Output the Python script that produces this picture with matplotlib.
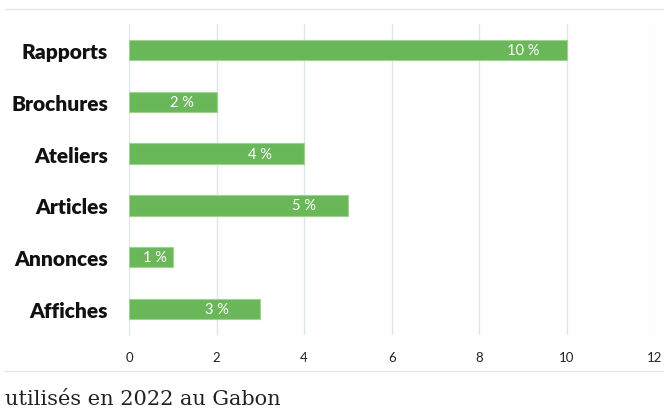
import matplotlib.pyplot as plt
from matplotlib.lines import Line2D

# Supports utilisés (valeurs en %)
categories = ["Affiches", "Annonces", "Articles", "Ateliers", "Brochures", "Rapports"]
valeurs = [3, 1, 5, 4, 2, 10]
etiquettes = ["3 %", "1 %", "5 %", "4 %", "2 %", "10 %"]
graduations = [0, 2, 4, 6, 8, 10, 12]

plt.rcParams['font.family'] = ['Lato', 'DejaVu Sans']

fig = plt.figure(figsize=(6.64, 4.14), dpi=100)
ax = fig.add_axes([0.1943, 0.189, 0.7915, 0.75])

pos = range(len(categories))
ax.barh(pos, valeurs, height=0.4, color='#6ab759', edgecolor='#9fd490',
        linewidth=0.8, zorder=3)

for y, v, txt in zip(pos, valeurs, etiquettes):
    ax.text(max(v - 1, v * 0.6), y, txt, color='white', fontsize=10.5,
            ha='center', va='center', zorder=4)

ax.set_xlim(0, 12)
ax.set_ylim(-0.5, 5.5)
ax.set_xticks(graduations)
ax.set_xticklabels([str(g) for g in graduations], fontsize=9.5, color='#222222')
ax.set_yticks(list(pos))
ax.set_yticklabels(categories, fontsize=15, fontweight='heavy', color='#111111')
ax.tick_params(axis='x', length=0, pad=12)
ax.tick_params(axis='y', length=0, pad=15)
ax.grid(axis='x', color='#dde4ec', linewidth=1, zorder=0)
for s in ax.spines.values():
    s.set_visible(False)

# filets de la page et légende tronquée
fig.add_artist(Line2D([5 / 664, 1], [1 - 10 / 414] * 2, color='#e2e7ea', lw=1))
fig.add_artist(Line2D([5 / 664, 1], [1 - 372 / 414] * 2, color='#e2e7ea', lw=1))
fig.text(5 / 664, 1 - 400 / 414, "utilisés en 2022 au Gabon", family='DejaVu Serif',
         fontsize=15, color='#222222', va='center', ha='left')

fig.savefig("out.png", dpi=100)
